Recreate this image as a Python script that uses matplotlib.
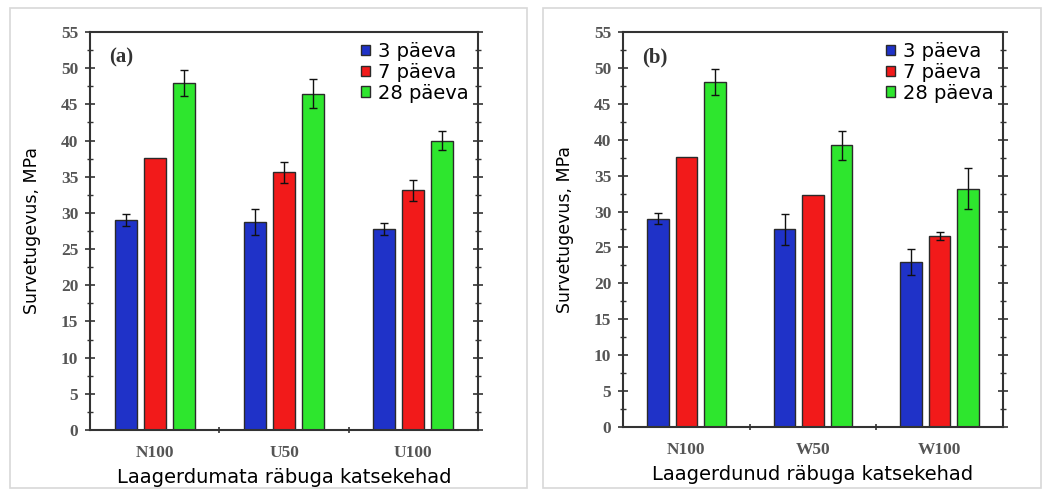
import matplotlib
matplotlib.use("Agg")
import matplotlib.pyplot as plt
import numpy as np
from matplotlib.patches import Rectangle

series = ["3 päeva", "7 päeva", "28 päeva"]
colors = ["#1f32c8", "#f21a1a", "#2ee62e"]

cats_a = ["N100", "U50", "U100"]
vals_a = [[29.0, 28.8, 27.8], [37.6, 35.6, 33.1], [48.0, 46.5, 40.0]]
errs_a = [[0.8, 1.8, 0.8], [0.0, 1.5, 1.5], [1.8, 2.0, 1.3]]

cats_b = ["N100", "W50", "W100"]
vals_b = [[29.0, 27.5, 23.0], [37.6, 32.3, 26.6], [48.0, 39.2, 33.2]]
errs_b = [[0.8, 2.2, 1.8], [0.0, 0.0, 0.5], [1.8, 2.0, 2.8]]

xlabel_a = "Laagerdumata räbuga katsekehad"
xlabel_b = "Laagerdunud räbuga katsekehad"
ylabel = "Survetugevus, MPa"

W, H = 1051, 490
fig = plt.figure(figsize=(W / 100, H / 100), dpi=100)

# screenshot frames
for (x0, y0, x1, y1) in [(10, 8, 527, 488), (543, 8, 1041, 488)]:
    fig.add_artist(Rectangle((x0 / W, 1 - y1 / H), (x1 - x0) / W, (y1 - y0) / H,
                             transform=fig.transFigure, fill=False,
                             edgecolor="#d8d8d8", linewidth=1.2))


def panel(rect, cats, vals, errs, tag, xlabel, ylab_x):
    l, t, r, b = rect
    ax = fig.add_axes([l / W, 1 - b / H, (r - l) / W, (b - t) / H])
    x = np.arange(len(cats))
    offs = [-0.225, 0.0, 0.225]
    for i in range(3):
        e = np.array(errs[i])
        ax.bar(x + offs[i], vals[i], width=0.17, color=colors[i],
               edgecolor="#2a2a2a", linewidth=1.0, label=series[i], zorder=2)
        mask = e > 0
        ax.errorbar((x + offs[i])[mask], np.array(vals[i])[mask], yerr=e[mask],
                    fmt="none", ecolor="#111111", elinewidth=1.0, capsize=3,
                    capthick=1.0, zorder=3)
    ax.set_xlim(-0.5, 2.5)
    ax.set_ylim(0, 55)
    ax.set_yticks(np.arange(0, 56, 5))
    ax.set_yticks(np.arange(0, 55, 2.5), minor=True)
    ax.set_xticks(x)
    ax.set_xticklabels(cats, family="Liberation Serif", fontsize=12.5,
                       fontweight="bold", color="#555555")
    ax.set_xticks([0.5, 1.5], minor=True)
    for lab in ax.get_yticklabels():
        lab.set_family("Liberation Serif")
        lab.set_fontsize(12.5)
        lab.set_fontweight("bold")
        lab.set_color("#555555")
    ax.tick_params(axis="x", which="major", length=0, pad=11)
    ax.tick_params(axis="x", which="minor", length=4, width=1.2, direction="inout", color="#333333")
    ax.tick_params(axis="y", which="major", length=7, width=1.2, direction="inout",
                   right=True, color="#333333", pad=5)
    ax.tick_params(axis="y", which="minor", length=4, width=1.0, direction="inout",
                   right=True, color="#333333")
    for s in ax.spines.values():
        s.set_color("#333333")
        s.set_linewidth(1.5)
    ax.set_xlabel(xlabel, fontsize=14, family="DejaVu Sans")
    ax.xaxis.set_label_coords(0.5, -0.095)
    ax.set_ylabel(ylabel, fontsize=12.5, family="DejaVu Sans")
    ax.yaxis.set_label_coords(ylab_x, 0.5)
    ax.yaxis.label.set_va("center")
    ax.text(0.05, 0.935, tag, transform=ax.transAxes, fontsize=15, fontweight="bold",
            family="Liberation Serif", va="center", ha="left", color="#333333")
    ax.legend(loc="upper right", frameon=False, handlelength=0.45,
              handleheight=0.45, handletextpad=0.4, labelspacing=0.1,
              borderaxespad=0.2, borderpad=0.3,
              prop={"family": "DejaVu Sans", "size": 14})
    return ax


panel((90, 32, 478, 430), cats_a, vals_a, errs_a, "(a)", xlabel_a, -0.149)
panel((623, 32, 1003, 427), cats_b, vals_b, errs_b, "(b)", xlabel_b, -0.153)

fig.savefig("out.png", dpi=100)
